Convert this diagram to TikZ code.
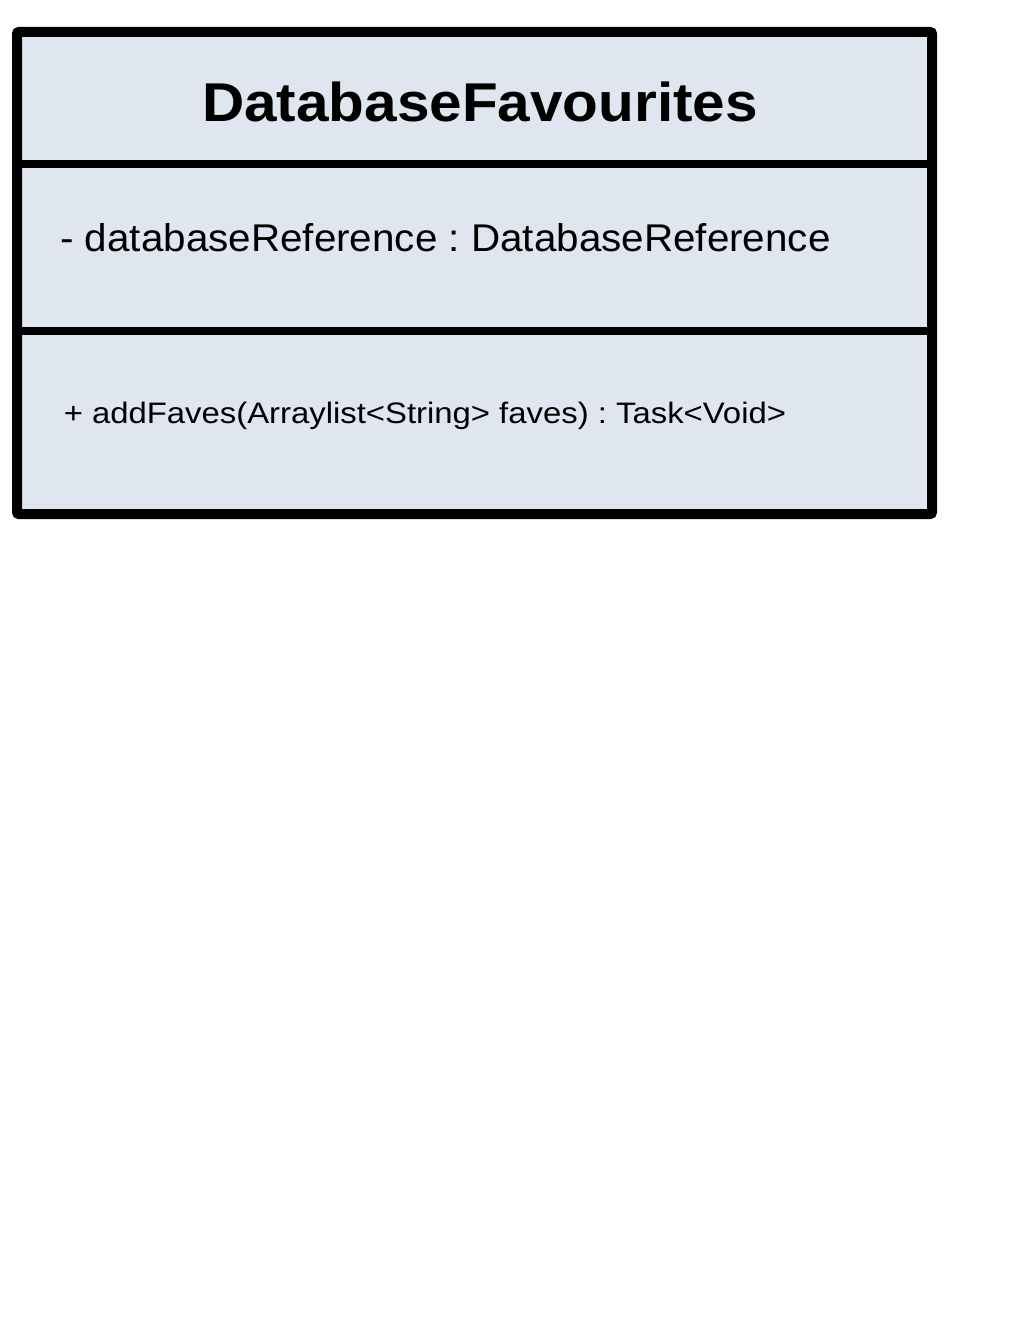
\documentclass[tikz,border=0pt]{standalone}
\usepackage{fontspec}
\setmainfont{Liberation Sans}
\newfontfamily\namefont[FakeStretch=1.07]{Liberation Sans}
\newfontfamily\attrfont[FakeStretch=1.045]{Liberation Sans}
\newfontfamily\methfont[FakeStretch=1.11]{Liberation Sans}
\definecolor{boxfill}{RGB}{223,230,239}
\frenchspacing
\tikzset{
	classbox/.style={
		draw,
		line width=7.5pt,
		fill=boxfill,
		rounded corners=1.5pt,
	},
	divider/.style={
		draw,
		line width=6pt,
	},
	classname/.style={
		anchor=base,
		inner sep=0pt,
		font=\namefont\bfseries\fontsize{41}{49}\selectfont,
	},
	member/.style={
		anchor=base west,
		inner sep=0pt,
	},
}

\begin{document}
\begin{tikzpicture}[x=0.75pt, y=-0.75pt]
		
		\useasboundingbox (0,0) rectangle (1020,1320);
		\draw [classbox] (17,32) rectangle (932,514);
		
		\coordinate (top l) at (22,163.5);
		\coordinate (top r) at (927,163.5);
		\coordinate (mid l) at (22,331);
		\coordinate (mid r) at (927,331);
		
		\node [classname] (name) at (480,121) {DatabaseFavourites};
		\node [member, font=\attrfont\fontsize{29}{35}\selectfont] (attr) at (60,251) {- databaseReference : DatabaseReference};
		\node [member, font=\methfont\fontsize{22.2}{26}\selectfont] (meth) at (63.5,423) {+ addFaves(Arraylist<String> faves) : Task<Void>};
		
		\draw [divider] (top l) to (top r);
		\draw [divider] (mid l) to (mid r);
	\end{tikzpicture}
\end{document}
